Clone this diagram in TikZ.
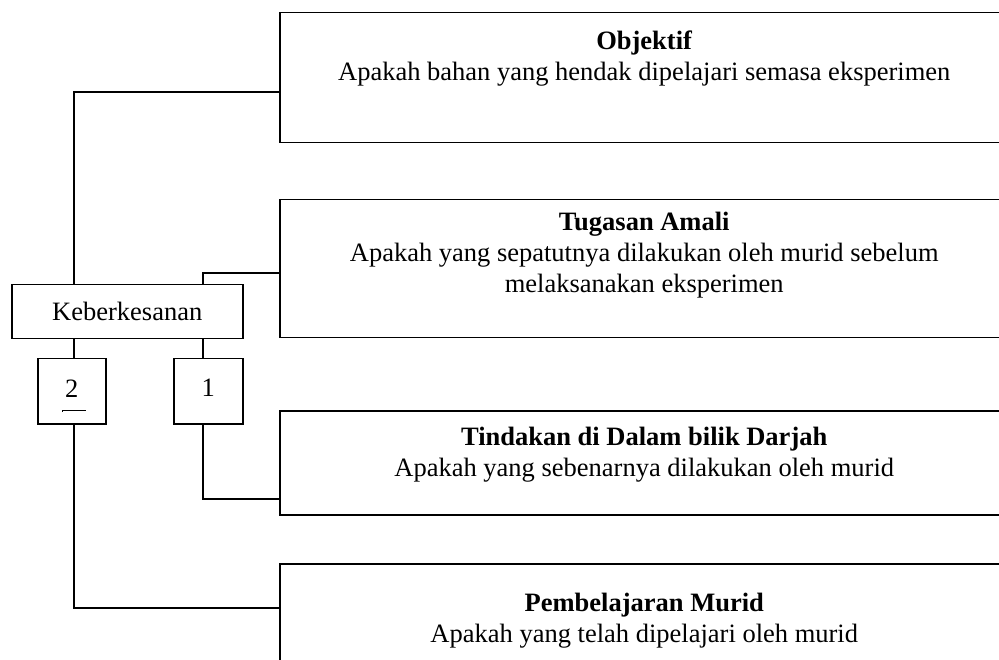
\documentclass[tikz,border=0pt]{standalone}
\usepackage{fontspec}
\setmainfont{Liberation Serif}
\usetikzlibrary{positioning}

\tikzset{
  kotak/.style={draw, line width=1.5pt, inner sep=0pt, anchor=north west,
    font=\fontsize{26.5}{31}\selectfont},
  teks/.style={align=center, inner sep=0pt, font=\fontsize{26.5}{31}\selectfont},
  garis/.style={line width=1.5pt},
}

\begin{document}
\begin{tikzpicture}[x=1pt,y=-1pt]
        \useasboundingbox (0,0) rectangle (999,660);
        \clip (0,0) rectangle (999,660);

        % Kotak kanan
        \node[kotak, minimum width=729pt, minimum height=130pt] (obj) at (279,12) {};
        \node[kotak, minimum width=729pt, minimum height=138pt] (tug) at (279,199) {};
        \node[kotak, minimum width=729pt, minimum height=104pt] (tin) at (279,410) {};
        \node[kotak, minimum width=729pt, minimum height=120pt] (pem) at (279,563) {};

        \node[teks, below=19pt of obj.north] (tobj) {\textbf{Objektif}\\
          Apakah bahan yang hendak dipelajari semasa eksperimen};
        \node[teks, below=13pt of tug.north] (ttug) {\textbf{Tugasan Amali}\\
          Apakah yang sepatutnya dilakukan oleh murid sebelum\\
          melaksanakan eksperimen};
        \node[teks, below=17pt of tin.north] (ttin) {\textbf{Tindakan di Dalam bilik Darjah}\\
          Apakah yang sebenarnya dilakukan oleh murid};
        \node[teks, below=30pt of pem.north] (tpem) {\textbf{Pembelajaran Murid}\\
          Apakah yang telah dipelajari oleh murid};

        % Kotak kiri
        \node[kotak, minimum width=231pt, minimum height=54pt] (kb) at (11,284) {};
        \node[teks] at (kb.center) {Keberkesanan};
        \node[kotak, minimum width=68pt, minimum height=65pt] (two) at (37,358) {};
        \node[teks] at ([yshift=3pt]two.center) {2};
        \node[kotak, minimum width=69pt, minimum height=65pt] (one) at (173,358) {};
        \node[teks] at ([yshift=3pt]one.center) {1};
        \draw[line width=0.7pt] (62,412) -- (62,410) -- (86,410);

        % Titik sambungan
        \coordinate (c2) at (74,0);
        \coordinate (c1) at (203,0);
        \coordinate (jo) at (279,92);
        \coordinate (jt) at (279,273);
        \coordinate (ji) at (279,499);
        \coordinate (jp) at (279,608);

        % Garis ke atas
        \draw[garis] (kb.north -| c2) |- (jo);
        \draw[garis] (kb.north -| c1) |- (jt);

        % Garis ke bawah
        \draw[garis] (kb.south -| c2) -- (two.north -| c2);
        \draw[garis] (kb.south -| c1) -- (one.north -| c1);
        \draw[garis] (one.south -| c1) |- (ji);
        \draw[garis] (two.south -| c2) |- (jp);
\end{tikzpicture}
\end{document}
